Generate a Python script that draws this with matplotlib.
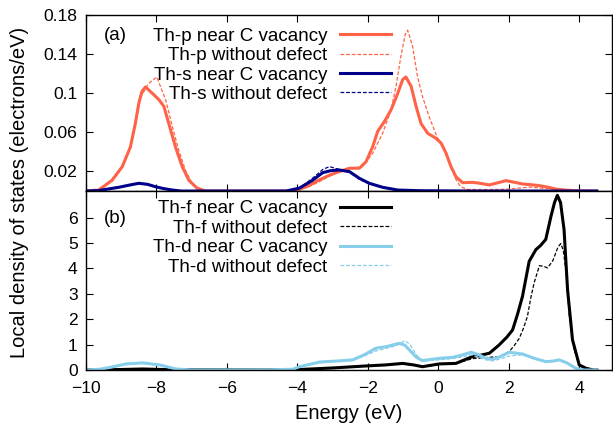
import matplotlib
matplotlib.use('Agg')
import matplotlib.pyplot as plt

plt.rcParams['font.family'] = ['Liberation Sans', 'DejaVu Sans']
plt.rcParams['font.size'] = 12

# Th-p, near C vacancy (solid) and without defect (dashed)
e_p_vac = [-10, -9.64, -9.26, -8.97, -8.74, -8.6, -8.5, -8.41, -8.31, -8.12, -7.93, -7.79,
           -7.65, -7.46, -7.27, -7.08, -6.85, -6.61, -5.5, -4.3, -4.0, -3.7, -3.4, -3.1, -2.8,
           -2.52, -2.24, -2.05, -1.86, -1.72, -1.53, -1.34, -1.15, -1.01, -0.92, -0.77, -0.63,
           -0.49, -0.3, -0.07, 0.08, 0.22, 0.36, 0.5, 0.69, 0.97, 1.2, 1.45, 1.7, 1.92, 2.15,
           2.39, 2.63, 2.87, 3.1, 3.34, 3.6, 3.9, 4.2, 4.5]
p_vac = [0, 0.001, 0.011, 0.025, 0.045, 0.069, 0.090, 0.102, 0.1064, 0.100, 0.0934, 0.0865,
         0.069, 0.045, 0.025, 0.011, 0.003, 0, 0, 0, 0.001, 0.005, 0.011, 0.016, 0.020,
         0.0233, 0.0233, 0.030, 0.0455, 0.061, 0.071, 0.083, 0.100, 0.114, 0.1166, 0.107, 0.0865,
         0.069, 0.059, 0.054, 0.049, 0.0387, 0.025, 0.0147, 0.0085, 0.0089, 0.0078, 0.0062, 0.0085, 0.0106, 0.009,
         0.0072, 0.0065, 0.0055, 0.004, 0.002, 0.001, 0.0003, 0, 0]
e_p_ref = [-10, -9.64, -9.26, -8.97, -8.74, -8.6, -8.45, -8.22, -7.99, -7.74, -7.55, -7.37,
           -7.18, -6.99, -6.75, -6.5, -5.5, -4.3, -4.0, -3.7, -3.4, -3.1, -2.8, -2.52, -2.15,
           -1.86, -1.58, -1.34, -1.2, -1.06, -0.94, -0.87, -0.73, -0.59, -0.45, -0.26, -0.02,
           0.08, 0.22, 0.36, 0.5, 0.62, 0.8, 1.2, 1.6, 2.0, 2.3, 2.6, 2.9, 3.3, 3.7, 4.0, 4.5]
p_ref = [0, 0.001, 0.010, 0.024, 0.044, 0.068, 0.096, 0.110, 0.1166, 0.0934, 0.066, 0.042,
         0.0215, 0.008, 0.001, 0, 0, 0, 0.001, 0.004, 0.009, 0.015, 0.020, 0.023, 0.025,
         0.0387, 0.059, 0.083, 0.107, 0.138, 0.160, 0.1645, 0.148, 0.117, 0.0968, 0.076, 0.054,
         0.049, 0.0387, 0.025, 0.012, 0.005, 0.0017, 0.0015, 0.0015, 0.002, 0.003, 0.004, 0.003, 0.002, 0.001, 0, 0]

# Th-s
e_s_vac = [-10, -9.64, -9.07, -8.75, -8.5, -8.25, -8.03, -7.8, -7.55, -7.3, -6.0, -4.32, -3.94,
           -3.57, -3.28, -3.05, -2.81, -2.52, -2.24, -1.96, -1.58, -1.15, -0.5, 1.0, 4.5]
s_vac = [0, 0.0005, 0.0038, 0.0062, 0.0079, 0.0068, 0.0044, 0.0025, 0.001, 0, 0, 0, 0.003,
         0.011, 0.0188, 0.0208, 0.0215, 0.0198, 0.013, 0.0079, 0.0038, 0.001, 0.0003, 0, 0]
e_s_ref = [-10, -9.64, -9.07, -8.75, -8.5, -8.25, -8.03, -7.8, -7.55, -7.3, -6.0, -4.32, -3.94,
           -3.57, -3.28, -3.09, -2.81, -2.52, -2.24, -1.96, -1.58, -1.15, -0.5, 1.0, 4.5]
s_ref = [0, 0.0005, 0.0036, 0.006, 0.0077, 0.0067, 0.0044, 0.0025, 0.001, 0, 0, 0, 0.003,
         0.013, 0.022, 0.025, 0.022, 0.019, 0.012, 0.0075, 0.0036, 0.001, 0.0003, 0, 0]

# Th-f
e_f_vac = [-10, -9, -8.4, -7.5, -5, -3.94, -3.0, -2.05, -1.5, -1.01, -0.7, -0.45, 0.03, 0.5,
           0.97, 1.16, 1.45, 1.73, 1.95, 2.11, 2.25, 2.39, 2.58, 2.77, 2.9, 3.05, 3.2, 3.3,
           3.38, 3.47, 3.57, 3.67, 3.81, 4.0, 4.19, 4.4, 4.5]
f_vac = [0, 0.02, 0.04, 0.01, 0, 0.02, 0.08, 0.16, 0.2, 0.26, 0.2, 0.13, 0.24, 0.26,
         0.53, 0.57, 0.66, 0.99, 1.3, 1.58, 2.2, 2.9, 4.28, 4.74, 4.9, 5.14, 6.06, 6.6,
         6.88, 6.6, 5.53, 3.16, 1.19, 0.2, 0.07, 0, 0]
e_f_ref = [-10, -9, -8.4, -7.5, -5, -3.94, -3.0, -2.05, -1.5, -1.01, -0.7, -0.45, 0.03, 0.5,
           0.97, 1.2, 1.45, 1.73, 2.01, 2.15, 2.3, 2.42, 2.53, 2.62, 2.72, 2.87, 3.0, 3.1, 3.25,
           3.4, 3.48, 3.55, 3.63, 3.72, 3.86, 4.0, 4.19, 4.4, 4.5]
f_ref = [0, 0.02, 0.04, 0.01, 0, 0.02, 0.08, 0.15, 0.19, 0.24, 0.19, 0.13, 0.22, 0.25,
         0.45, 0.47, 0.5, 0.53, 0.72, 0.95, 1.25, 1.65, 2.11, 2.8, 3.43, 4.11, 4.08, 4.02, 4.3,
         4.85, 4.98, 4.7, 3.82, 2.1, 0.79, 0.2, 0.07, 0, 0]

# Th-d
e_d_vac = [-10, -9.6, -9.33, -8.86, -8.39, -7.91, -7.44, -7.0, -5.0, -4.13, -3.94, -3.38, -3.19,
           -2.8, -2.43, -2.1, -1.77, -1.48, -1.11, -0.95, -0.82, -0.62, -0.45, -0.2, 0.03, 0.41,
           0.7, 0.93, 1.15, 1.35, 1.54, 1.8, 2.01, 2.39, 2.7, 3.05, 3.25, 3.43, 3.65, 3.9,
           4.1, 4.5]
d_vac = [0, 0.03, 0.1, 0.24, 0.28, 0.2, 0.04, 0, 0, 0.03, 0.13, 0.31, 0.33,
         0.36, 0.4, 0.6, 0.86, 0.92, 1.05, 0.98, 0.79, 0.5, 0.37, 0.42, 0.46, 0.5,
         0.6, 0.7, 0.6, 0.46, 0.42, 0.55, 0.7, 0.63, 0.47, 0.33, 0.35, 0.4, 0.28, 0.07,
         0, 0]
e_d_ref = [-10, -9.6, -9.33, -8.86, -8.39, -7.91, -7.44, -7.0, -5.0, -4.13, -3.94, -3.38, -3.19,
           -2.8, -2.43, -2.1, -1.77, -1.48, -1.2, -0.95, -0.8, -0.62, -0.45, -0.2, 0.03, 0.41,
           0.7, 0.93, 1.15, 1.35, 1.54, 1.8, 2.01, 2.39, 2.7, 3.05, 3.25, 3.43, 3.65, 3.9,
           4.1, 4.5]
d_ref = [0, 0.03, 0.1, 0.24, 0.28, 0.2, 0.04, 0, 0, 0.03, 0.12, 0.3, 0.32,
         0.35, 0.38, 0.55, 0.75, 0.85, 0.95, 1.16, 1.0, 0.6, 0.35, 0.38, 0.4, 0.45,
         0.52, 0.6, 0.5, 0.4, 0.36, 0.45, 0.55, 0.6, 0.47, 0.33, 0.34, 0.38, 0.27, 0.07,
         0, 0]

c_p = '#ff6347'
c_s = '#00008b'
c_f = 'black'
c_d = '#87ceeb'
dash = (0, (3, 1.5))

fig = plt.figure(figsize=(6.13, 4.28), dpi=100)
ax1 = fig.add_axes([0.1403, 0.5537, 0.858, 0.4113])
ax2 = fig.add_axes([0.1403, 0.1355, 0.858, 0.4182])

ax1.plot(e_p_vac, p_vac, color=c_p, lw=2.2, label='Th-p near C vacancy')
ax1.plot(e_p_ref, p_ref, color=c_p, lw=0.9, ls=dash, label='Th-p without defect')
ax1.plot(e_s_vac, s_vac, color=c_s, lw=2.2, label='Th-s near C vacancy')
ax1.plot(e_s_ref, s_ref, color=c_s, lw=0.9, ls=dash, label='Th-s without defect')

ax2.plot(e_f_vac, f_vac, color=c_f, lw=2.2, label='Th-f near C vacancy')
ax2.plot(e_f_ref, f_ref, color=c_f, lw=0.9, ls=dash, label='Th-f without defect')
ax2.plot(e_d_vac, d_vac, color=c_d, lw=2.2, label='Th-d near C vacancy')
ax2.plot(e_d_ref, d_ref, color=c_d, lw=0.9, ls=dash, label='Th-d without defect')

for ax in (ax1, ax2):
    ax.set_xlim(-10, 4.93)
    ax.set_xticks([-10, -8, -6, -4, -2, 0, 2, 4])
    ax.tick_params(direction='in', top=True, right=True, length=5, width=0.8, labelsize=12.6)
    ax.tick_params(axis='y', pad=6)
    ax.tick_params(axis='x', pad=8)
    for sp in ax.spines.values():
        sp.set_linewidth(1.0)

ax1.set_ylim(0, 0.18)
ax1.set_yticks([0.02, 0.06, 0.1, 0.14, 0.18])
ax1.set_yticklabels(['0.02', '0.06', '0.1', '0.14', '0.18'])
ax1.tick_params(labelbottom=False)

ax2.set_ylim(0, 7.05)
ax2.set_yticks([0, 1, 2, 3, 4, 5, 6])
ax2.set_xlabel('Energy (eV)', fontsize=14.5, labelpad=6)

ax1.text(0.055, 0.886, '(a)', transform=ax1.transAxes, ha='center', va='center', fontsize=13.5)
ax2.text(0.055, 0.844, '(b)', transform=ax2.transAxes, ha='center', va='center', fontsize=13.5)

for ax, yb in ((ax1, 0.928), (ax2, 0.948)):
    ax.legend(loc='upper right', bbox_to_anchor=(0.58, yb), frameon=False, markerfirst=False,
              handlelength=2.7, handletextpad=0.7, labelspacing=0.12, borderpad=0,
              borderaxespad=0, fontsize=13.5)

fig.text(0.031, 0.55, 'Local density of states (electrons/eV)', rotation=90,
         ha='center', va='center', fontsize=14.5)

fig.savefig('out.png', dpi=100)
